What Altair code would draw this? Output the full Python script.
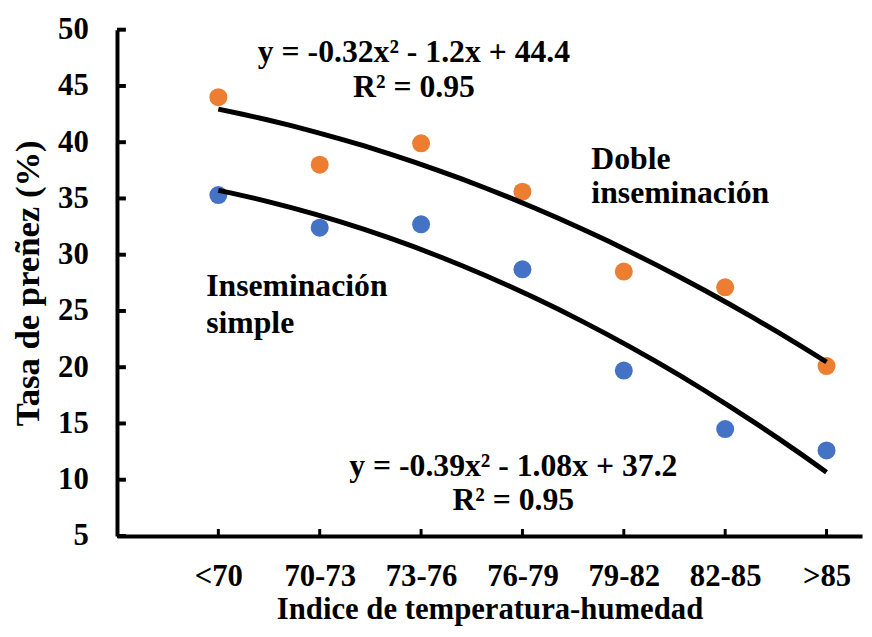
import json
import altair as alt
import pandas as pd

categorias = ["<70", "70-73", "73-76", "76-79", "79-82", "82-85", ">85"]
doble = [44.0, 38.0, 39.9, 35.6, 28.5, 27.1, 20.1]
simple = [35.3, 32.4, 32.7, 28.7, 19.7, 14.5, 12.6]
y_ticks = [5, 10, 15, 20, 25, 30, 35, 40, 45, 50]

rows = []
for i, (d, s) in enumerate(zip(doble, simple)):
    rows.append({"idx": i + 1, "valor": d, "serie": "Doble"})
    rows.append({"idx": i + 1, "valor": s, "serie": "Simple"})
df = pd.DataFrame(rows)

ann_text = ["y = -0.32x² - 1.2x + 44.4", "R² = 0.95", "Doble", "inseminación",
            "Inseminación", "simple", "y = -0.39x² - 1.08x + 37.2", "R² = 0.95"]
ann_x = [2.93, 2.93, 4.68, 4.68, 0.88, 0.88, 3.91, 3.91]
ann_y = [48.05, 44.9, 38.5, 35.5, 27.2, 23.9, 11.2, 8.2]
ann_align = ["center", "center", "left", "left", "left", "left", "center", "center"]
ann = pd.DataFrame({"t": ann_text, "x": ann_x, "y": ann_y, "a": ann_align})

FONT = "Liberation Serif"
label_expr = json.dumps(categorias) + "[datum.value - 1]"

xscale = alt.Scale(domain=[0, 7.35], nice=False, zero=False)
yscale = alt.Scale(domain=[5, 50], nice=False, zero=False)

x_enc = alt.X("idx:Q", scale=xscale,
              axis=alt.Axis(values=list(range(1, 8)), labelExpr=label_expr,
                            labelFontSize=31, labelPadding=26,
                            title="Indice de temperatura-humedad",
                            titleFontSize=31, titlePadding=3))
y_enc = alt.Y("valor:Q", scale=yscale,
              axis=alt.Axis(values=y_ticks, labelFontSize=31, labelPadding=29,
                            title="Tasa de preñez (%)", titleFontSize=35, titlePadding=12))

base = alt.Chart(df)

points = base.mark_circle(size=330, opacity=1).encode(
    x=x_enc, y=y_enc,
    color=alt.Color("serie:N", scale=alt.Scale(domain=["Doble", "Simple"],
                                               range=["#ED7D31", "#4472C4"]), legend=None),
)

lines = base.transform_regression(
    "idx", "valor", method="poly", order=2, groupby=["serie"], extent=[1, 7]
).mark_line(color="black", strokeWidth=5).encode(
    x=alt.X("idx:Q", scale=xscale), y=alt.Y("valor:Q", scale=yscale), detail="serie:N"
)

ytick_df = pd.DataFrame({"v": y_ticks})
yticks = alt.Chart(ytick_df).mark_rule(color="black", strokeWidth=4).encode(
    y=alt.Y("v:Q", scale=yscale), x=alt.value(0), x2=alt.value(9)
)
xtick_df = pd.DataFrame({"v": list(range(1, 8))})
xticks = alt.Chart(xtick_df).mark_rule(color="black", strokeWidth=3).encode(
    x=alt.X("v:Q", scale=xscale), y=alt.value(511), y2=alt.value(504)
)

def text_layer(align):
    return alt.Chart(ann[ann["a"] == align]).mark_text(
        font=FONT, fontWeight="bold", fontSize=32, color="black", align=align, baseline="middle"
    ).encode(x=alt.X("x:Q", scale=xscale), y=alt.Y("y:Q", scale=yscale), text="t:N")

chart = alt.layer(points, lines, yticks, xticks, text_layer("center"), text_layer("left")).properties(
    width=752, height=511,
    padding={"left": 110, "top": 19, "right": 2, "bottom": 91},
    autosize=alt.AutoSizeParams(type="none"),
    background="white",
).configure_view(stroke=None).configure_axis(
    domainColor="black", domainWidth=4, ticks=False, grid=False,
    labelFont=FONT, labelFontWeight="bold", labelColor="black",
    titleFont=FONT, titleFontWeight="bold", titleColor="black",
)

chart.save("out.html", embed_options={"renderer": "svg", "actions": False})
